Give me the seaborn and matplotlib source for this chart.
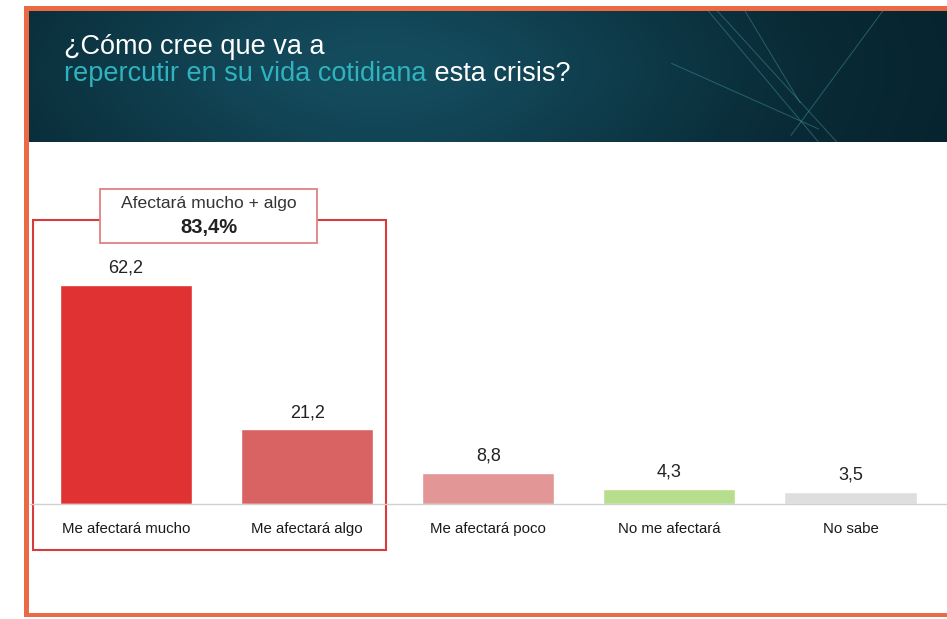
import numpy as np
import pandas as pd
import matplotlib
matplotlib.use("Agg")
import matplotlib.pyplot as plt
import seaborn as sns
from matplotlib.patches import Rectangle
from matplotlib.lines import Line2D

categories = ["Me afectará mucho", "Me afectará algo", "Me afectará poco",
              "No me afectará", "No sabe"]
values = [62.2, 21.2, 8.8, 4.3, 3.5]
value_labels = ["62,2", "21,2", "8,8", "4,3", "3,5"]
bar_colors = ["#e03133", "#d96262", "#e29696", "#b6de8c", "#dedede"]
group_title = "Afectará mucho + algo"
group_value = "83,4%"
title_line1 = "¿Cómo cree que va a"
title_teal = "repercutir en su vida cotidiana"
title_rest = " esta crisis?"

sns.set_theme(style="white")
plt.rcParams['font.family'] = ['Liberation Sans', 'DejaVu Sans']

W, H = 947, 619
fig = plt.figure(figsize=(W / 100, H / 100), dpi=100)
fig.patch.set_facecolor("white")

def fx(px):
    return px / W

def fy(py):
    return 1 - py / H

# Header background
hax = fig.add_axes([fx(29), fy(142), fx(947 - 29), (142 - 11) / H])
hax.set_axis_off()
nx, ny = 400, 60
xx = np.linspace(0, 1, nx)
yy = np.linspace(0, 1, ny)
X, Y = np.meshgrid(xx, yy)
c_dark = np.array([0x06, 0x22, 0x2c]) / 255
c_mid = np.array([0x14, 0x4c, 0x5e]) / 255
blend = np.exp(-((X - 0.38) / 0.38) ** 2) * (0.75 + 0.25 * np.exp(-((Y - 0.55) / 0.5) ** 2))
blend = np.clip(blend, 0, 1)
img = c_dark[None, None, :] * (1 - blend[..., None]) + c_mid[None, None, :] * blend[..., None]
hax.imshow(img, aspect="auto", extent=[0, 1, 0, 1], origin="lower")
for (x0, y0, x1, y1) in [(0.74, 1.0, 0.86, 0.0), (0.75, 1.0, 0.88, 0.0), (0.93, 1.0, 0.83, 0.05),
                         (0.70, 0.6, 0.86, 0.1), (0.78, 1.0, 0.84, 0.3)]:
    hax.plot([x0, x1], [y0, y1], color="#3f8a96", lw=0.7, alpha=0.55)
hax.set_xlim(0, 1)
hax.set_ylim(0, 1)

# Title text
tsize = 19.5
fig.text(fx(64), fy(54), title_line1, color="white", fontsize=tsize, va="baseline", ha="left")
t1 = fig.text(fx(64), fy(81), title_teal, color="#2fb3be", fontsize=tsize, va="baseline", ha="left")
fig.canvas.draw()
bb = t1.get_window_extent()
fig.text(bb.x1 / W, fy(81), title_rest, color="white", fontsize=tsize, va="baseline", ha="left")

# Main bar axes
ax = fig.add_axes([fx(35.5), 115 / H, fx(941 - 35.5), 246.4 / H])
df = pd.DataFrame({"categoria": categories, "valor": values})
sns.barplot(data=df, x="categoria", y="valor", hue="categoria", palette=bar_colors,
            legend=False, width=0.73, ax=ax, saturation=1)
ax.set_ylim(0, 70)
ax.set_xlim(-0.5, 4.5)
ax.set_xlabel("")
ax.set_ylabel("")
ax.set_yticks([])
for s in ax.spines.values():
    s.set_visible(False)
ax.tick_params(axis="x", length=0, pad=13, labelsize=10.8, labelcolor="#1a1a1a")
ax.set_facecolor("none")
for i, (v, lab) in enumerate(zip(values, value_labels)):
    ax.annotate(lab, (i, v), xytext=(0, 6), textcoords="offset points",
                ha="center", va="bottom", fontsize=13, color="#222222")

# Baseline
fig.add_artist(Line2D([fx(30), fx(947)], [fy(504), fy(504)], color="#d0d0d0", lw=1))

# Group red box
fig.add_artist(Rectangle((fx(33), fy(550)), fx(386 - 33), (550 - 220) / H,
                         fill=False, edgecolor="#d93a3c", lw=1.5))
fig.add_artist(Rectangle((fx(100), fy(243)), fx(317 - 100), (243 - 189) / H,
                         facecolor="white", edgecolor="#e58080", lw=1.3))
fig.text(fx(208.5), fy(203), group_title, ha="center", va="center", fontsize=12.6, color="#333333")
fig.text(fx(208.5), fy(228), group_value, ha="center", va="center", fontsize=14.5,
         fontweight="bold", color="#222222")

# Orange frame
orange = "#ea6a45"
fig.add_artist(Rectangle((fx(24), fy(11)), fx(947 - 24), 5 / H, facecolor=orange, edgecolor="none"))
fig.add_artist(Rectangle((fx(24), fy(617)), fx(5), (617 - 6) / H, facecolor=orange, edgecolor="none"))
fig.add_artist(Rectangle((fx(24), fy(617)), fx(947 - 24), 4 / H, facecolor=orange, edgecolor="none"))

fig.savefig("out.png", dpi=100)
